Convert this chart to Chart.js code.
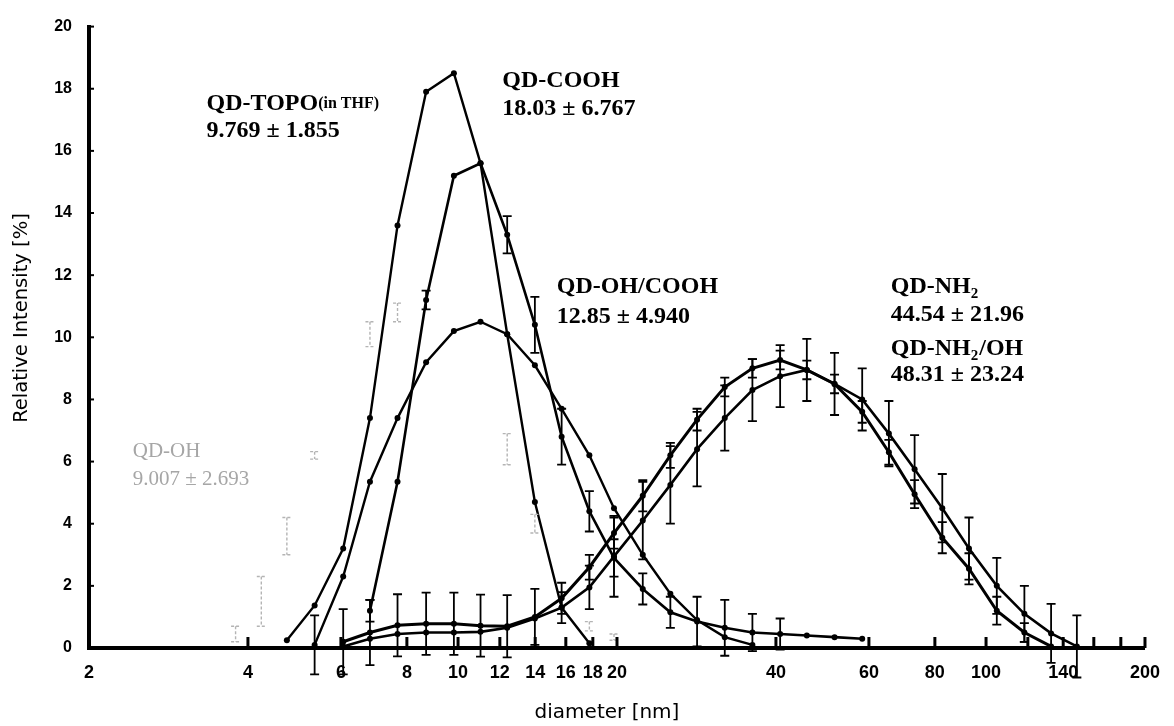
<!DOCTYPE html>
<html lang="en">
<head>
    <meta charset="UTF-8">
    <title>QD size distribution</title>
    <style>
        html, body { margin: 0; padding: 0; background: #ffffff; }
        canvas { display: block; }
    </style>
</head>
<body>
    <canvas id="sizeChart" width="1174" height="726"></canvas>

    <script src="https://cdn.jsdelivr.net/npm/chart.js@4/dist/chart.umd.min.js"></script>
    <script>
        // diameter bins [nm]
        const diameters = [3.79, 4.24, 4.74, 5.35, 6.06, 6.81, 7.68, 8.70, 9.82, 11.03, 12.39, 13.98, 15.71, 17.73, 19.74, 22.38,
            25.24, 28.36, 32.0, 36.1, 40.74, 45.77, 51.65, 58.27, 65.46, 73.23, 82.63, 92.83, 104.8, 118.2, 132.8, 148.6];

        // relative intensity [%] per bin (null = no point)
        const topo = [null, null, 0.25, 1.37, 3.2, 7.4, 13.6, 17.9, 18.5, 15.6, 10.1, 4.7, 1.3, 0.15,
            null, null, null, null, null, null, null, null, null, null, null, null, null, null, null, null, null, null];
        const cooh = [null, null, null, null, null, 1.2, 5.35, 11.2, 15.2, 15.6, 13.3, 10.4, 6.8, 4.4, 2.9, 1.9,
            1.15, 0.85, 0.65, 0.5, 0.45, 0.4, 0.35, 0.3, null, null, null, null, null, null, null, null];
        const coohErr = [null, null, null, null, null, 0.35, null, 0.3, null, null, 0.6, 0.9, 0.9, 0.65, 0.6, 0.5,
            0.5, 0.8, 0.9, 0.6, 0.5, null, null, null, null, null, null, null, null, null, null, null];
        const ohCooh = [null, null, null, 0.1, 2.3, 5.35, 7.4, 9.2, 10.2, 10.5, 10.1, 9.1, 7.7, 6.2, 4.5, 3.0,
            1.75, 0.9, 0.35, 0.1, null, null, null, null, null, null, null, null, null, null, null, null];
        const ohCoohErr = [null, null, null, 0.95, null, null, null, null, null, null, null, null, null, null, null, null,
            null, null, null, null, null, null, null, null, null, null, null, null, null, null, null, null];
        const nh2 = [null, null, null, null, 0.2, 0.5, 0.73, 0.78, 0.78, 0.72, 0.7, 1.0, 1.6, 2.6, 3.7, 4.9,
            6.2, 7.35, 8.4, 9.0, 9.27, 8.95, 8.5, 7.6, 6.3, 4.95, 3.55, 2.55, 1.2, 0.5, 0.05, null];
        const nh2Err = [null, null, null, null, 1.05, 1.05, 1.0, 1.0, 1.0, 1.0, 1.0, 0.9, 0.5, 0.4, 0.5, 0.5,
            0.4, 0.35, 0.3, 0.3, 0.3, 0.3, 0.3, 0.35, 0.4, 0.45, 0.5, 0.5, 0.45, 0.3, null, null];
        const nh2Oh = [null, null, null, null, 0.05, 0.3, 0.45, 0.5, 0.5, 0.52, 0.65, 0.95, 1.3, 1.95, 2.95, 4.1,
            5.25, 6.4, 7.4, 8.3, 8.75, 8.95, 8.5, 8.0, 6.9, 5.75, 4.5, 3.2, 2.0, 1.1, 0.47, 0.05];
        const nh2OhErr = [null, null, null, null, null, null, null, null, null, null, null, null, 0.5, 0.7, 1.3, 1.25,
            1.25, 1.2, 1.05, 1.0, 1.0, 1.0, 1.0, 1.0, 1.05, 1.1, 1.1, 1.0, 0.9, 0.9, 0.95, 1.0];
        // QD-OH is almost lost in the scan: only its faint error bars remain
        const qdOh = [0.45, 1.5, 3.6, 6.2, 8.4, 10.1, 10.8, 10.5, 9.6, 8.2, 6.4, 4.0, 2.0, 0.7, 0.35,
            null, null, null, null, null, null, null, null, null, null, null, null, null, null, null, null, null];
        const qdOhErr = [0.25, 0.8, 0.6, 0.12, null, 0.4, 0.3, null, null, null, 0.5, 0.3, null, 0.15, 0.1,
            null, null, null, null, null, null, null, null, null, null, null, null, null, null, null, null, null];

        const xTickValues = [2, 4, 6, 8, 10, 12, 14, 16, 18, 20, 40, 60, 80, 100, 140, 200];
        const xMinorTicks = [120, 160, 180];
        const yTickValues = [0, 2, 4, 6, 8, 10, 12, 14, 16, 18, 20];

        function toPoints(values, errors) {
            const pts = [];
            values.forEach((v, i) => {
                if (v === null) return;
                pts.push({ x: diameters[i], y: v, e: errors ? errors[i] : null });
            });
            return pts;
        }

        const serif = '"Liberation Serif", "Times New Roman", serif';
        const notes = [
            { x: 3.34, y: 17.5, parts: [['QD-TOPO', 24], ['(in THF)', 16]] },
            { x: 3.34, y: 16.65, parts: [['9.769 \u00b1 1.855', 24]] },
            { x: 12.13, y: 18.25, parts: [['QD-COOH', 24]] },
            { x: 12.13, y: 17.36, parts: [['18.03 \u00b1 6.767', 24]] },
            { x: 15.38, y: 11.62, parts: [['QD-OH/COOH', 24]] },
            { x: 15.38, y: 10.67, parts: [['12.85 \u00b1 4.940', 24]] },
            { x: 66.0, y: 11.62, parts: [['QD-NH', 24], ['2', 15, 7]] },
            { x: 66.0, y: 10.73, parts: [['44.54 \u00b1 21.96', 24]] },
            { x: 66.0, y: 9.62, parts: [['QD-NH', 24], ['2', 15, 7], ['/OH', 24]] },
            { x: 66.0, y: 8.79, parts: [['48.31 \u00b1 23.24', 24]] },
            { x: 2.42, y: 6.31, parts: [['QD-OH', 21]], faint: true },
            { x: 2.42, y: 5.41, parts: [['9.007 \u00b1 2.693', 21]], faint: true }
        ];

        const errorBars = {
            id: 'errorBars',
            afterDatasetsDraw(chart) {
                const ctx = chart.ctx;
                const ys = chart.scales.y;
                chart.data.datasets.forEach((ds, i) => {
                    const meta = chart.getDatasetMeta(i);
                    ctx.save();
                    ctx.strokeStyle = ds.errColor || '#000';
                    ctx.lineWidth = ds.errWidth || 1.8;
                    ctx.setLineDash(ds.errDash || []);
                    meta.data.forEach((pt, j) => {
                        const d = ds.data[j];
                        if (d.e === null || d.e === undefined) return;
                        const top = ys.getPixelForValue(d.y + d.e);
                        const bot = ys.getPixelForValue(d.y - d.e);
                        ctx.beginPath();
                        ctx.moveTo(pt.x, top); ctx.lineTo(pt.x, bot);
                        ctx.moveTo(pt.x - 4.5, top); ctx.lineTo(pt.x + 4.5, top);
                        ctx.moveTo(pt.x - 4.5, bot); ctx.lineTo(pt.x + 4.5, bot);
                        ctx.stroke();
                    });
                    ctx.restore();
                });
            }
        };

        const decorations = {
            id: 'decorations',
            afterDraw(chart) {
                const ctx = chart.ctx;
                const xs = chart.scales.x, ys = chart.scales.y;
                const area = chart.chartArea;
                ctx.save();
                // inward tick marks
                ctx.strokeStyle = '#000';
                ctx.lineWidth = 3;
                xTickValues.concat(xMinorTicks).forEach(v => {
                    if (v === 2) return;
                    const px = xs.getPixelForValue(v);
                    ctx.beginPath();
                    ctx.moveTo(px, area.bottom);
                    ctx.lineTo(px, area.bottom - 11);
                    ctx.stroke();
                });
                ctx.lineWidth = 2;
                yTickValues.forEach(v => {
                    if (v === 0) return;
                    const py = ys.getPixelForValue(v);
                    ctx.beginPath();
                    ctx.moveTo(area.left, py);
                    ctx.lineTo(area.left + 5, py);
                    ctx.stroke();
                });

                // axis titles
                ctx.fillStyle = '#000';
                ctx.textAlign = 'center';
                ctx.textBaseline = 'middle';
                ctx.font = '20px "DejaVu Sans", Verdana, sans-serif';
                ctx.fillText('diameter [nm]', 607, 713);
                ctx.save();
                ctx.translate(22, 318);
                ctx.rotate(-Math.PI / 2);
                ctx.font = '19.5px "DejaVu Sans", Verdana, sans-serif';
                ctx.fillText('Relative Intensity [%]', 0, 0);
                ctx.restore();

                // sample labels
                ctx.textAlign = 'left';
                notes.forEach(n => {
                    let px = xs.getPixelForValue(n.x);
                    const py = ys.getPixelForValue(n.y);
                    ctx.fillStyle = n.faint ? '#a6a6a6' : '#000';
                    n.parts.forEach(p => {
                        ctx.font = (n.faint ? '' : 'bold ') + p[1] + 'px ' + serif;
                        ctx.fillText(p[0], px, py + (p[2] || 0));
                        px += ctx.measureText(p[0]).width + (p[1] < 20 ? 1 : 0);
                    });
                });
                ctx.restore();
            }
        };

        function lineSet(label, values, errors, width) {
            return {
                label: label,
                data: toPoints(values, errors),
                borderColor: '#000',
                backgroundColor: '#000',
                borderWidth: width,
                pointRadius: 3,
                pointBackgroundColor: '#000',
                pointBorderWidth: 0,
                tension: 0,
                clip: false
            };
        }

        const faintOh = {
            label: 'QD-OH',
            data: toPoints(qdOh, qdOhErr),
            showLine: false,
            pointRadius: 0,
            errColor: '#b4b4b4',
            errWidth: 1.4,
            errDash: [3, 2]
        };

        new Chart(document.getElementById('sizeChart'), {
            type: 'line',
            data: {
                datasets: [
                    faintOh,
                    lineSet('QD-TOPO(in THF)', topo, null, 2.4),
                    lineSet('QD-COOH', cooh, coohErr, 2.6),
                    lineSet('QD-OH/COOH', ohCooh, ohCoohErr, 2.4),
                    lineSet('QD-NH2', nh2, nh2Err, 3),
                    lineSet('QD-NH2/OH', nh2Oh, nh2OhErr, 2.6)
                ]
            },
            options: {
                responsive: false,
                animation: false,
                layout: { padding: { top: 20, right: 17, left: 0, bottom: 0 } },
                plugins: {
                    legend: { display: false },
                    tooltip: { enabled: false }
                },
                scales: {
                    x: {
                        type: 'logarithmic',
                        min: 2,
                        max: 200,
                        grid: { display: false, drawTicks: false },
                        border: { display: true, color: '#000', width: 4 },
                        afterBuildTicks: s => { s.ticks = xTickValues.map(v => ({ value: v })); },
                        afterFit: s => { s.height = 78; },
                        ticks: {
                            autoSkip: false,
                            maxRotation: 0,
                            padding: 14,
                            color: '#000',
                            font: { family: '"Liberation Sans Narrow", "Liberation Sans", Arial, sans-serif', size: 18, weight: 'bold' },
                            callback: v => String(v)
                        }
                    },
                    y: {
                        min: 0,
                        max: 20,
                        grid: { display: false, drawTicks: false },
                        border: { display: true, color: '#000', width: 4 },
                        afterBuildTicks: s => { s.ticks = yTickValues.map(v => ({ value: v })); },
                        afterFit: s => { s.width = 89; },
                        ticks: {
                            padding: 17,
                            color: '#000',
                            font: { family: '"Liberation Sans Narrow", "Liberation Sans", Arial, sans-serif', size: 16, weight: 'bold' }
                        }
                    }
                }
            },
            plugins: [errorBars, decorations]
        });
    </script>
</body>
</html>
